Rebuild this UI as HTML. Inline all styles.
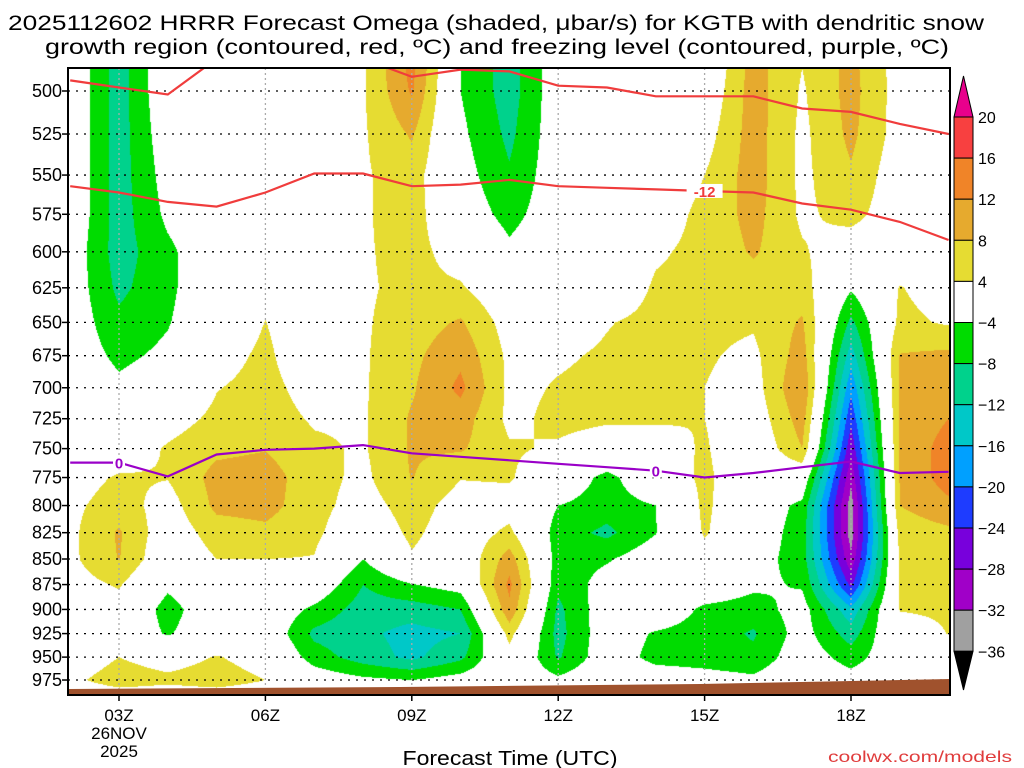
<!DOCTYPE html>
<html><head><meta charset="utf-8">
<style>
html,body{margin:0;padding:0;background:#fff;}
#wrap{position:relative;width:1024px;height:768px;overflow:hidden;font-family:"Liberation Sans",sans-serif;}
#shade{position:absolute;left:68px;top:68px;}
#ov{position:absolute;left:0;top:0;}
</style></head>
<body>
<div id="wrap">
<canvas id="shade" width="882" height="627"></canvas>
<svg id="ov" width="1024" height="768" xmlns="http://www.w3.org/2000/svg">
<text x="496" y="30" text-anchor="middle" font-size="21" textLength="976" lengthAdjust="spacingAndGlyphs">2025112602 HRRR Forecast Omega (shaded, μbar/s) for KGTB with dendritic snow</text>
<text x="497" y="54" text-anchor="middle" font-size="21" textLength="904" lengthAdjust="spacingAndGlyphs">growth region (contoured, red, ºC) and freezing level (contoured, purple, ºC)</text>
<g id="grid"></g>
<g id="lines"></g>
<polygon points="68,689 400,687 700,684 950,679 950,695 68,695" fill="#a0522d"/>
<rect x="68" y="68" width="882" height="627" fill="none" stroke="#000" stroke-width="2"/>
<g id="axes"></g>
<g id="cbar"></g>
<text x="510" y="765" text-anchor="middle" font-size="20" textLength="215" lengthAdjust="spacingAndGlyphs">Forecast Time (UTC)</text>
<text x="1012" y="762" text-anchor="end" font-size="16" fill="#e03c3c" textLength="184" lengthAdjust="spacingAndGlyphs">coolwx.com/models</text>
</svg>
</div>
<script>
// ---- data ----
const hours = [2,3,4,5,6,7,8,9,10,11,12,13,14,15,16,17,18,19,20];
const levels = [475,500,525,550,575,600,625,650,675,700,725,750,775,800,825,850,875,900,925,950,975,1000];
const yTicks = [500,525,550,575,600,625,650,675,700,725,750,775,800,825,850,875,900,925,950,975];
const xTickHours = [3,6,9,12,15,18];
const xTickLabels = ["03Z","06Z","09Z","12Z","15Z","18Z"];
const cbarLevels = [20,16,12,8,4,-4,-8,-12,-16,-20,-24,-28,-32,-36];
const cbarColors = ["#f84040","#f08428","#e6aa2e","#e6dc32","#ffffff","#00dc00","#00d28c","#00c8c8","#00a0ff","#1e3cff","#7800dc","#a000c8","#a0a0a0"];
const omega = [
 [0,0,0,0,0,-1,-1,-1,-1,0,0,0,2,3,3,3,2,0,0,1,3,0],
 [-10,-10,-10,-10,-10,-10,-9,-7,-5,-3,-1,1,4.5,6,8.5,8.2,4.5,2,0,4,6,0],
 [0,0,-1,-2,-3,-5,-5,-4.3,-3,-1,2,4.5,4.2,2,1,0,-3,-6,-4.5,2,5,0],
 [0,0,0,0,0,0,0,0,2,3.8,5,7,9.5,9,6,4,2,0,0,4.3,6,0],
 [0,0,0,0,1,1,2.5,4.1,5,5.5,6,7.8,10,9.5,7,4,3,0,0,2,4,0],
 [0,0,0,0,0,0,0,0,0,2,3.5,4.8,5.5,5.5,5,3.8,0,-5,-9,-6,-1,0],
 [3.5,3.5,3.5,3.5,3.5,3.5,3.5,3.5,3.5,3.5,3.5,3.5,3,2,0,-4,-8,-10,-11,-10,-3,0],
 [14,12.5,8.5,6,6,5.5,5,6,7,7.5,8.5,8.5,8.2,6,5,3.5,-4.2,-10,-13.5,-13,-4,0],
 [-4,-4,-3,-2,-1,2,4.5,8.5,11,13,10,8.5,4.2,2,1,0,-2,-8,-12,-9,-2,0],
 [-10,-10,-9,-7.5,-5.5,-3,0,2,3,3,3,4.5,4.5,2,5,10,13,11,5.5,2,0,0],
 [-1,-1,-1,-1,-1,0,1,2,3.5,4.3,5,3.5,0,-4,-6,-6,-7,-9,-9.5,-8.5,-3,0],
 [0,0,0,0,0,0,1,3.8,4.5,5,4.5,2,-5.5,-6,-9,-4.5,-2,-1,-1,-1,0,0],
 [0,0,0,1,2,3.5,4.5,5,5,5,4.5,2,0.5,-4,-4.2,-1,0,0,-4.5,-5.5,-1,0],
 [-1.5,0,2,4,5,5,5,5,4.5,4,4,4.5,5,5,4.5,2,0,-5,-6,-6,-2,0],
 [9.5,10,10,10,9.5,8.5,6,4.5,3,2,1,0,0,-1,-1,-2,-3,-6,-8.5,-7,-3,0],
 [4.5,3.5,3,3,3.2,4.5,6,8.5,10,12,10,8,0,-5,-6,-6,-4.5,-2,-2,-1,0,0],
 [9,9.5,9,7.5,5.5,1,-3.5,-9,-14,-19,-23,-27,-31,-34,-34,-31,-25,-15,-10,-6,-2,0],
 [2,2,2,1,1,1,4.2,5,8.2,8.5,8.5,8.5,8.3,8,5.5,4.5,4.5,4.2,2,0,0,0],
 [0,0,0,0,0,1,2,3.5,9,10,12,14,14,11,7,5.5,5,4.5,4.1,1,0,0]
];
const redUpperP = [494,498,502,482,478,476,482,492,488,489,497,498,503,503,503,510,512,519,525];
const redLowerP = [557,561,567,570,561,549,549,557,556,553,557,558,559,560,561,568,572,580,592];
const freezeP = [762,762,774,755,751,750,747,754,757,760,763,766,769,775,771,766,761,771,770];

// ---- axes ----
const X0=68,X1=950,Y0=68,Y1=695;
function xOf(h){return 119+(h-3)*48.8;}
function yOf(p){return 91+882*Math.log(p/500);}
function hOf(x){return 3+(x-119)/48.8;}
function pOf(y){return 500*Math.exp((y-91)/882);}
const NS="http://www.w3.org/2000/svg";
function mk(tag,attrs,parent){const e=document.createElementNS(NS,tag);for(const k in attrs)e.setAttribute(k,attrs[k]);parent.appendChild(e);return e;}

function colorFor(v){
  if(v>=20) return [232,0,140];
  if(v<-36) return [0,0,0];
  for(let i=0;i<cbarLevels.length-1;i++){
    if(v<cbarLevels[i] && v>=cbarLevels[i+1]){const c=cbarColors[i];return [parseInt(c.substr(1,2),16),parseInt(c.substr(3,2),16),parseInt(c.substr(5,2),16)];}
  }
  return [255,255,255];
}
// shading
(function(){
  const cv=document.getElementById('shade');const ctx=cv.getContext('2d');
  const W=cv.width,H=cv.height;const img=ctx.createImageData(W,H);const d=img.data;
  for(let py=0;py<H;py++){
    const p=pOf(Y0+py+0.5);
    let fj=(p-levels[0])/25; fj=Math.max(0,Math.min(levels.length-1.0001,fj));
    const j=Math.floor(fj),tj=fj-j;
    for(let px=0;px<W;px++){
      const h=hOf(X0+px+0.5);
      let fi=h-hours[0]; fi=Math.max(0,Math.min(hours.length-1.0001,fi));
      const i=Math.floor(fi),ti=fi-i;
      const v=(omega[i][j]*(1-ti)+omega[i+1][j]*ti)*(1-tj)+(omega[i][j+1]*(1-ti)+omega[i+1][j+1]*ti)*tj;
      const c=colorFor(v);const k=(py*W+px)*4;
      d[k]=c[0];d[k+1]=c[1];d[k+2]=c[2];d[k+3]=255;
    }
  }
  ctx.putImageData(img,0,0);
})();

// grid + ticks
const grid=document.getElementById('grid'),axes=document.getElementById('axes');
yTicks.forEach(p=>{
  const y=yOf(p);
  const g=mk('line',{x1:X0,x2:X1,y1:y,y2:y,stroke:'#000','stroke-width':1.3,'stroke-dasharray':'2,6'},grid);
  
  
  const t=mk('line',{x1:X0-6,x2:X0,y1:y,y2:y,stroke:'#000','stroke-width':1.5},axes);
  
  
  const l=mk('text',{x:X0-6,y:y+6,'text-anchor':'end','font-size':18},axes);
  l.textContent=p;
  
  
});
xTickHours.forEach((h,i)=>{
  const x=xOf(h);
  const g=mk('line',{x1:x,x2:x,y1:Y0,y2:Y1,stroke:'#aaa','stroke-width':1.3,'stroke-dasharray':'2,3'},grid);
  
  
  const t=mk('line',{x1:x,x2:x,y1:Y1,y2:Y1+6,stroke:'#000','stroke-width':1.5},axes);
  
  
  const l=mk('text',{x:x,y:721,'text-anchor':'middle','font-size':17},axes);
  l.textContent=xTickLabels[i];
  
  
});
[["26NOV",739],["2025",757]].forEach(a=>{
  const l=mk('text',{x:xOf(3),y:a[1],'text-anchor':'middle','font-size':17},axes);
  l.textContent=a[0];
  
  
});

// contour lines
const lines=document.getElementById('lines');
mk('clipPath',{id:'pc'},lines).appendChild(document.createElementNS(NS,'rect'));
const cr=lines.querySelector('#pc rect');cr.setAttribute('x',X0);cr.setAttribute('y',Y0);cr.setAttribute('width',X1-X0);cr.setAttribute('height',Y1-Y0);
function drawLine(arr,color,name){
  const pts=arr.map((p,i)=>xOf(hours[i]).toFixed(1)+','+yOf(p).toFixed(1)).join(' ');
  const pl=mk('polyline',{points:pts,fill:'none',stroke:color,'stroke-width':2.2,'clip-path':'url(#pc)'},lines);
  
  
}
drawLine(redUpperP,'#f03c3c','dgz-upper-contour');
drawLine(redLowerP,'#f03c3c','dgz-minus12-contour');
drawLine(freezeP,'#9a00c8','freezing-level-contour');
function label(h,arr,txt,color,name){
  const x=xOf(h),y=yOf(arr[hours.indexOf(h)]);
  const r=mk('rect',{x:x-(txt.length*6),y:y-7,width:txt.length*12,height:14,fill:'#fff'},lines);
  
  
  const t=mk('text',{x:x,y:y+6,'text-anchor':'middle','font-size':15,'font-weight':'bold',fill:color},lines);
  t.textContent=txt;
  
  
}
label(15,redLowerP,'-12','#f03c3c','contour-label-minus12');
label(3,freezeP,'0','#9a00c8','contour-label-0-left');
label(14,freezeP,'0','#9a00c8','contour-label-0-right');

// colorbar
const cb=document.getElementById('cbar');
const cbX=954,cbW=19,cbTop=117,cbH=41.1;
const tp=mk('polygon',{points:`${cbX},${cbTop} ${cbX+cbW},${cbTop} ${cbX+cbW/2},76`,fill:'#e8008c',stroke:'#000','stroke-width':1},cb);


cbarColors.forEach((c,i)=>{
  const r=mk('rect',{x:cbX,y:cbTop+i*cbH,width:cbW,height:cbH,fill:c,stroke:'#000','stroke-width':1},cb);
  
  
});
const bY=cbTop+cbarColors.length*cbH;
const bp=mk('polygon',{points:`${cbX},${bY} ${cbX+cbW},${bY} ${cbX+cbW/2},690`,fill:'#000',stroke:'#000','stroke-width':1},cb);


cbarLevels.forEach((v,i)=>{
  const t=mk('text',{x:978,y:cbTop+i*cbH+6,'font-size':16},cb);
  t.textContent=v<0?'\u2212'+(-v):String(v);
  
  
});
</script>
</body></html>
